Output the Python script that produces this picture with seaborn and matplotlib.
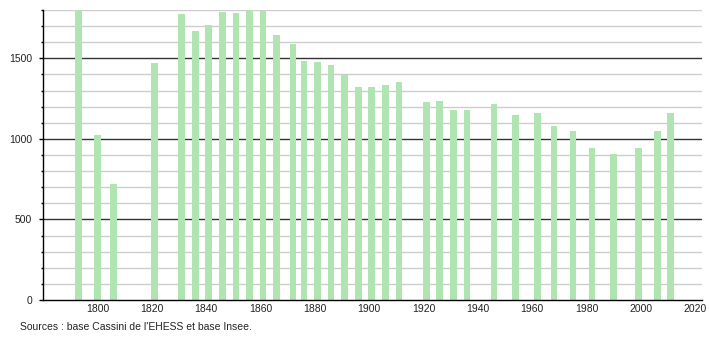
import matplotlib
matplotlib.use("Agg")
import matplotlib.pyplot as plt
import seaborn as sns
import numpy as np
from matplotlib.ticker import MultipleLocator

years = [1793, 1800, 1806, 1821, 1831, 1836, 1841, 1846, 1851, 1856, 1861, 1866,
         1872, 1876, 1881, 1886, 1891, 1896, 1901, 1906, 1911, 1921, 1926, 1931,
         1936, 1946, 1954, 1962, 1968, 1975, 1982, 1990, 1999, 2006, 2011]
population = [1810, 1027, 722, 1469, 1775, 1669, 1706, 1787, 1779, 1806, 1793, 1644,
              1588, 1482, 1476, 1457, 1395, 1320, 1320, 1333, 1351, 1227, 1233, 1177,
              1177, 1214, 1146, 1158, 1083, 1046, 946, 909, 946, 1046, 1158]
x_ticks = list(range(1800, 2021, 20))
y_ticks = [0, 500, 1000, 1500]
source_text = "Sources : base Cassini de l'EHESS et base Insee."

sns.set_style("white")
plt.rcParams['font.family'] = ['Liberation Sans', 'DejaVu Sans']

fig = plt.figure(figsize=(7.1, 3.4), dpi=100)
ax = fig.add_axes([43 / 710, 1 - 300 / 340, (702 - 43) / 710, 290 / 340])

sns.barplot(x=years, y=population, native_scale=True, width=0.62,
            color="#b0e4b0", saturation=1, linewidth=0, ax=ax)
for p in ax.patches:
    p.set_zorder(3)

ax.set_xlim(1780, 2022.5)
ax.set_ylim(0, 1800)

# grid lines
for v in range(100, 1801, 100):
    if v % 500 == 0:
        ax.axhline(v, color="#333333", lw=1.0, zorder=1)
    else:
        ax.axhline(v, color="#cccccc", lw=1.0, zorder=1)

ax.set_xticks(x_ticks)
ax.set_xticklabels([str(t) for t in x_ticks])
ax.set_yticks(y_ticks)
ax.set_yticklabels([str(t) for t in y_ticks])
ax.yaxis.set_minor_locator(MultipleLocator(100))

ax.tick_params(axis="x", length=0, pad=3, labelsize=7.5, colors="#222222")
ax.tick_params(axis="y", which="major", length=3, width=1, pad=5,
               labelsize=7.5, colors="#222222", left=True)
ax.tick_params(axis="y", which="minor", length=1.5, width=1, left=True,
               colors="#222222")
ax.tick_params(axis="y", which="both", color="black")

for s in ["top", "right"]:
    ax.spines[s].set_visible(False)
for s in ["left", "bottom"]:
    ax.spines[s].set_visible(True)
    ax.spines[s].set_color("black")
    ax.spines[s].set_linewidth(1.0)
    ax.spines[s].set_zorder(4)

ax.set_xlabel("")
ax.set_ylabel("")

fig.text(20 / 710, 1 - 327 / 340, source_text, fontsize=7.5, color="#222222",
         va="center", ha="left")

fig.savefig("out.png", dpi=100)
